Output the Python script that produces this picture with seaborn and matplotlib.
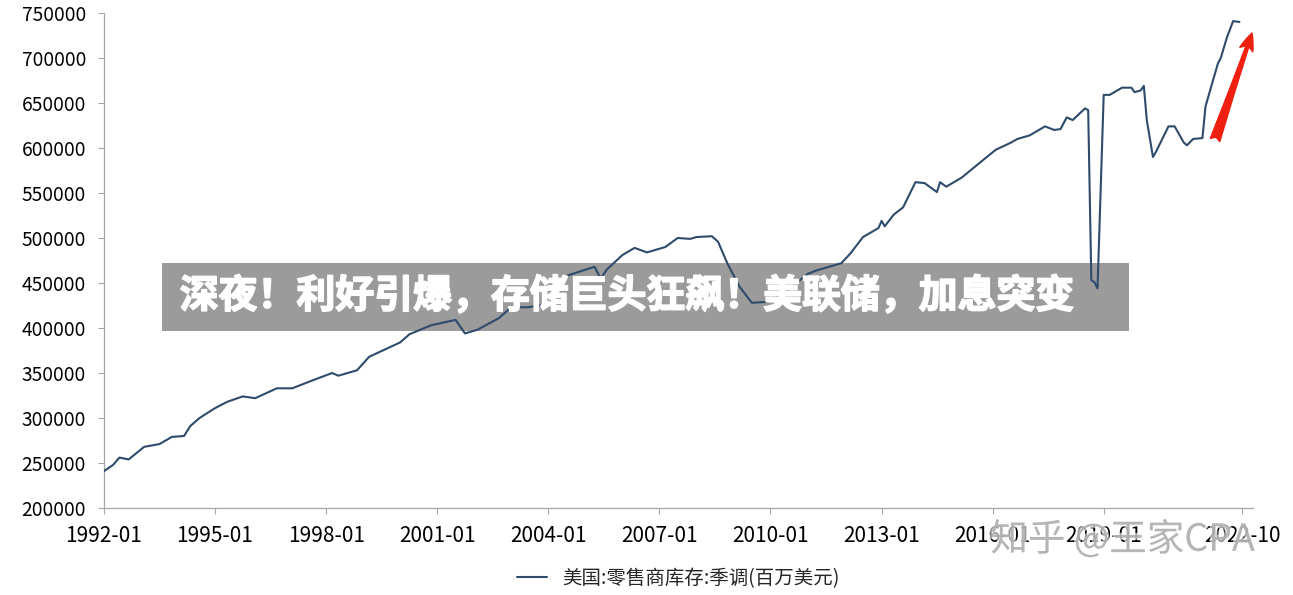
import numpy as np
import pandas as pd
import matplotlib
matplotlib.use('Agg')
import matplotlib.pyplot as plt
import matplotlib.patheffects as pe
from matplotlib.patches import Rectangle
import seaborn as sns

# values (month, inventory in millions USD)
dates = ['1992-01', '1992-04', '1992-06', '1992-09', '1993-02', '1993-07', '1993-11',
         '1994-03', '1994-05', '1994-08', '1995-01', '1995-05', '1995-10', '1996-02',
         '1996-09', '1997-02', '1997-08', '1998-03', '1998-05', '1998-11', '1999-03',
         '1999-08', '2000-01', '2000-04', '2000-11', '2001-07', '2001-10', '2002-02',
         '2002-09', '2003-01', '2003-06', '2004-01', '2004-06', '2005-04', '2005-06',
         '2005-08', '2006-01', '2006-05', '2006-09', '2007-03', '2007-07', '2007-11',
         '2008-01', '2008-06', '2008-08', '2008-11', '2009-03', '2009-07', '2009-12',
         '2010-06', '2011-01', '2011-04', '2011-12', '2012-03', '2012-07', '2012-12',
         '2013-01', '2013-02', '2013-05', '2013-08', '2013-12', '2014-03', '2014-07',
         '2014-08', '2014-10', '2015-03', '2015-09', '2016-02', '2016-07', '2016-09',
         '2017-01', '2017-06', '2017-09', '2017-11', '2018-01', '2018-03', '2018-07',
         '2018-08', '2018-09', '2018-10', '2018-11', '2019-01', '2019-03', '2019-07',
         '2019-10', '2019-11', '2020-01', '2020-02', '2020-03', '2020-05', '2020-06',
         '2020-10', '2020-12', '2021-03', '2021-04', '2021-06', '2021-09', '2021-10',
         '2021-12', '2022-02', '2022-03', '2022-05', '2022-07', '2022-09']
values = [241000, 248000, 256000, 254000, 268000, 271000, 279000,
          280000, 291000, 300000, 311000, 318000, 324000, 322000,
          333000, 333000, 341000, 350000, 347000, 353000, 368000,
          376000, 384000, 393000, 403000, 409000, 394000, 398000,
          411000, 423000, 423000, 426000, 457000, 468000, 455000,
          465000, 481000, 489000, 484000, 490000, 500000, 499000,
          501000, 502000, 496000, 472000, 446000, 428000, 429000,
          440000, 460000, 464000, 472000, 483000, 501000, 511000,
          519000, 513000, 526000, 534000, 562000, 561000, 551000,
          562000, 557000, 567000, 584000, 598000, 606000, 610000,
          614000, 624000, 620000, 621000, 634000, 631000, 644000,
          642000, 453000, 451000, 444000, 659000, 659000, 667000,
          667000, 662000, 664000, 669000, 631000, 590000, 596000,
          624000, 624000, 606000, 603000, 610000, 611000, 646000,
          670000, 694000, 700000, 723000, 741000, 740000]

tick_dates = ['1992-01', '1995-01', '1998-01', '2001-01', '2004-01', '2007-01',
              '2010-01', '2013-01', '2016-01', '2019-01', '2022-10']
y_ticks = list(range(200000, 750001, 50000))

series_name = '美国:零售商库存:季调(百万美元)'
headline = '深夜！利好引爆，存储巨头狂飙！美联储，加息突变'
watermark = '知乎 @王家CPA'

df = pd.DataFrame({'date': pd.to_datetime(dates), 'value': values})

sns.set_theme(style='white')
plt.rcParams['font.family'] = ['Noto Sans CJK SC', 'DejaVu Sans']

fig = plt.figure(figsize=(12.93, 5.95), dpi=100)
ax = fig.add_axes([0.0804, 0.1462, 0.8886, 0.832])

sns.lineplot(data=df, x='date', y='value', ax=ax, color='#2e4b6c',
             linewidth=1.5, label=series_name, zorder=3)

ax.set_xlim(pd.Timestamp('1992-01-01'), pd.Timestamp('2023-01-12'))
ax.set_ylim(200000, 750000)
ax.set_xticks(pd.to_datetime(tick_dates))
ax.set_xticklabels(tick_dates)
ax.set_yticks(y_ticks)
ax.set_yticklabels([str(v) for v in y_ticks])
ax.set_xlabel('')
ax.set_ylabel('')
ax.tick_params(axis='x', labelsize=15, colors='black', length=4, width=0.8,
               direction='out', pad=8, color='#a6a6a6')
ax.tick_params(axis='y', labelsize=13.8, colors='black', length=4, width=0.8,
               direction='out', pad=9, color='#a6a6a6')
ax.xaxis.set_ticks_position('bottom')
ax.yaxis.set_ticks_position('left')
for s in ['top', 'right']:
    ax.spines[s].set_visible(False)
for s in ['left', 'bottom']:
    ax.spines[s].set_color('#a6a6a6')
    ax.spines[s].set_linewidth(0.9)

leg = ax.legend(loc='center', bbox_to_anchor=(0.5, -0.142), frameon=False,
                fontsize=14, handlelength=1.5, handletextpad=0.8)

# headline banner: grey box under the line, white text over it
ax.add_patch(Rectangle((0.0505, 0.3576), 0.8416, 0.1374, transform=ax.transAxes,
                       facecolor='#9b9b9b', edgecolor='none', zorder=1.5))
ax.text(0.066, 0.428, headline, transform=ax.transAxes, fontsize=28,
        fontweight='heavy', color='white', va='center', ha='left', zorder=4,
        path_effects=[pe.withStroke(linewidth=1.2, foreground='white')])

# red trend arrow
ax.annotate('', xy=(0.9683, 0.9445), xytext=(0.9397, 0.7647),
            xycoords='figure fraction', textcoords='figure fraction',
            arrowprops=dict(arrowstyle='fancy,head_length=0.7,head_width=0.55,tail_width=0.4',
                            color='#f02010', mutation_scale=18, shrinkA=0, shrinkB=0))

# watermark
fig.text(0.766, 0.092, watermark, fontsize=27, color='#a0a0a0', alpha=0.7,
         va='center', ha='left',
         path_effects=[pe.withStroke(linewidth=3, foreground='white', alpha=0.6)])

fig.savefig('out.png', dpi=100, facecolor='white')
